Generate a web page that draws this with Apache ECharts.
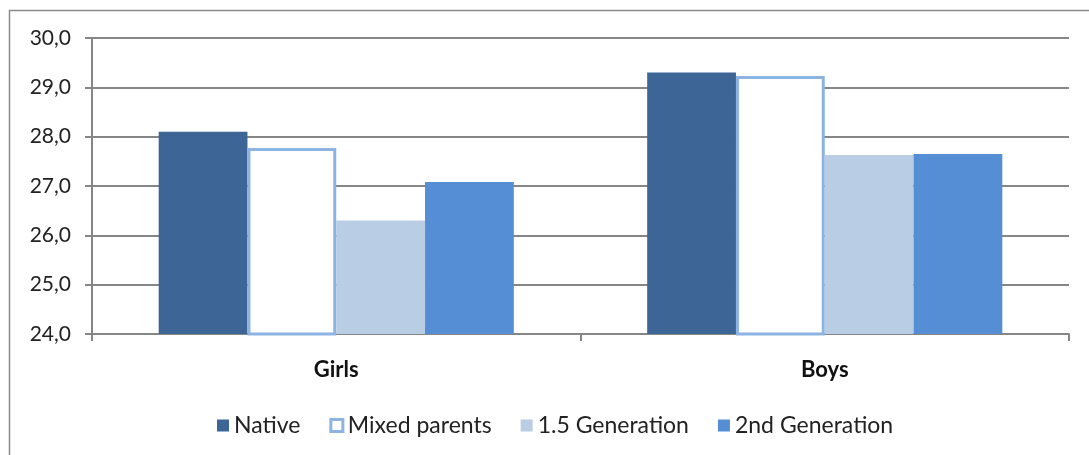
<!DOCTYPE html>
<html>
<head>
<meta charset="utf-8">
<script src="https://cdn.jsdelivr.net/npm/echarts@6/dist/echarts.min.js"></script>
<style>html,body{margin:0;padding:0;background:#fff}#c{width:1089px;height:455px}</style>
</head>
<body>
<div id="c"></div>
<script>
var categories = ['Girls', 'Boys'];
var seriesNames = ['Native', 'Mixed parents', '1.5 Generation', '2nd Generation'];
var native = [28.1, 29.3];
var mixedParents = [27.77, 29.23];
var gen15 = [26.3, 27.63];
var gen2 = [27.08, 27.65];
var yTickLabels = ['24,0', '25,0', '26,0', '27,0', '28,0', '29,0', '30,0'];

var FONT = 'Lato, "DejaVu Sans", sans-serif';
var chart = echarts.init(document.getElementById('c'), null, {renderer: 'canvas'});
var colors = ['#3D6595', '#FFFFFF', '#B9CDE5', '#558ED5'];
var mixedBorder = '#8DB3E2';

chart.setOption({
  animation: false,
  color: colors,
  graphic: [{
    type: 'rect', left: 7, top: 8, silent: true, z: -10,
    shape: {width: 1100, height: 470},
    style: {fill: 'none', stroke: '#8A8A8A', lineWidth: 1.5}
  }],
  grid: {left: 92, right: 20, top: 38, bottom: 121, containLabel: false},
  xAxis: {
    type: 'category',
    data: categories,
    axisLine: {show: true, lineStyle: {color: '#868686', width: 2}},
    axisTick: {show: true, length: 7, lineStyle: {color: '#868686', width: 2}},
    axisLabel: {margin: 25, fontFamily: FONT, fontSize: 22, fontWeight: 'bold', color: '#111'},
    splitLine: {show: false}
  },
  yAxis: {
    type: 'value',
    min: 24, max: 30, interval: 1,
    axisLine: {show: true, lineStyle: {color: '#868686', width: 2}},
    axisTick: {show: true, length: 7, lineStyle: {color: '#868686', width: 2}},
    splitLine: {show: true, lineStyle: {color: '#868686', width: 2}},
    axisLabel: {
      margin: 21, fontFamily: FONT, fontSize: 21, color: '#222',
      formatter: function (v) { return yTickLabels[Math.round(v - 24)]; }
    }
  },
  legend: {
    bottom: 13, left: 212,
    itemWidth: 12, itemHeight: 12, itemGap: 29,
    textStyle: {fontFamily: FONT, fontSize: 23, color: '#222'},
    data: [
      {name: seriesNames[0], icon: 'rect'},
      {name: seriesNames[1], icon: 'rect', itemStyle: {color: '#fff', borderColor: mixedBorder, borderWidth: 3}},
      {name: seriesNames[2], icon: 'rect'},
      {name: seriesNames[3], icon: 'rect'}
    ]
  },
  series: [
    {name: seriesNames[0], type: 'bar', data: native, barGap: '0%', barCategoryGap: '27.3%', itemStyle: {color: colors[0]}},
    {name: seriesNames[1], type: 'bar', data: mixedParents, itemStyle: {color: '#fff', borderColor: mixedBorder, borderWidth: 3}},
    {name: seriesNames[2], type: 'bar', data: gen15, itemStyle: {color: colors[2]}},
    {name: seriesNames[3], type: 'bar', data: gen2, itemStyle: {color: colors[3]}}
  ]
});
</script>
</body>
</html>
